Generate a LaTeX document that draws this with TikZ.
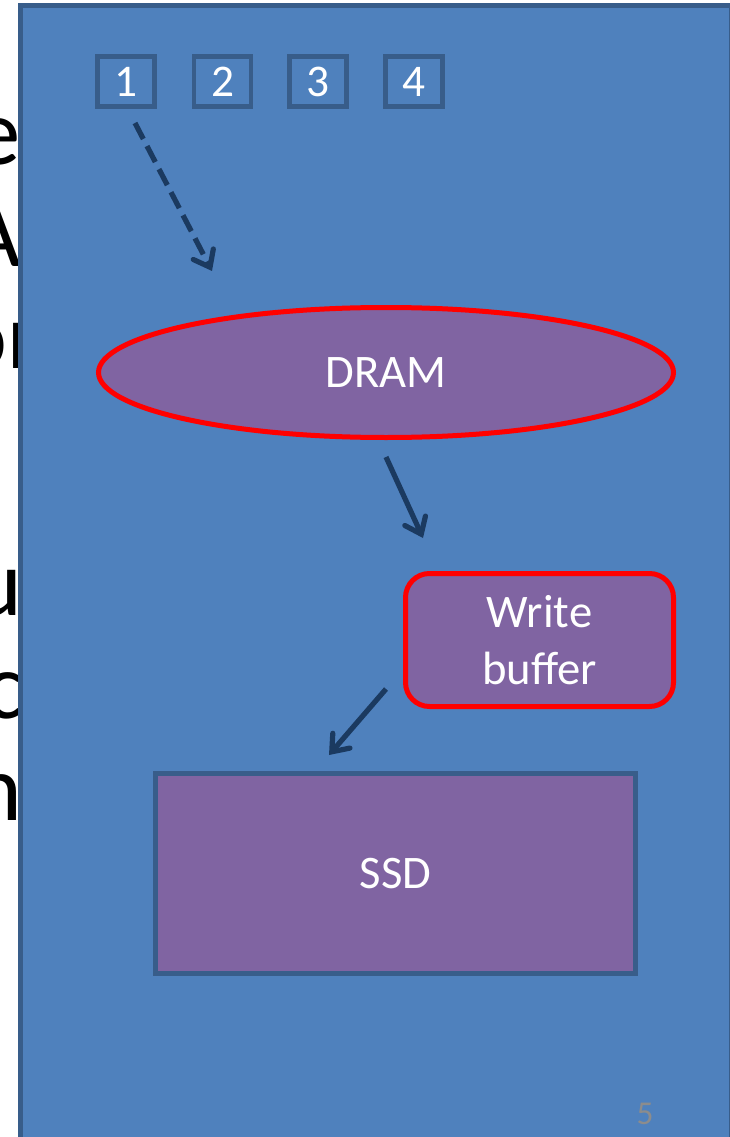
\documentclass[tikz,border=0pt]{standalone}
\usepackage{fontspec}
\setmainfont{Carlito}
\usetikzlibrary{arrows.meta,shapes.geometric}
\definecolor{slideblue}{HTML}{4F81BD}
\definecolor{edgeblue}{HTML}{385D8A}
\definecolor{boxpurple}{HTML}{8064A2}
\definecolor{arrownavy}{HTML}{1B3A60}
\definecolor{pagegray}{HTML}{8C8C8C}
\begin{document}
\begin{tikzpicture}[x=0.75pt,y=-0.75pt,
  bgletter/.style={inner sep=0pt,anchor=base east,text=black,font=\fontsize{71}{85}\selectfont},
  numbox/.style={draw=edgeblue,line width=3.6pt,minimum width=42.75pt,minimum height=37.5pt,
    inner sep=0pt,text=white,font=\fontsize{34}{40}\selectfont},
  redstage/.style={draw=red,line width=3.75pt,fill=boxpurple,text=white,
    font=\fontsize{35}{42.75}\selectfont,inner sep=0pt},
  flow/.style={draw=arrownavy,line width=3.9pt,
    -{Straight Barb[length=11pt,width=17pt,line cap=round]}},
  dashflow/.style={flow,dash pattern=on 13.5pt off 6pt}]

\useasboundingbox (0,0) rectangle (729,1137);
\fill[white] (0,0) rectangle (729,1137);

% slide text lines partly hidden behind the panel
\node[bgletter] (t1) at (21,165) {e};
\node[bgletter] (t2) at (22,267) {A};
\node[bgletter] (t3) at (41,368) {or};
\node[bgletter] (t4) at (23,615) {u};
\node[bgletter] (t5) at (25,718) {c};
\node[bgletter] (t6) at (23,820) {n};

% panel
\draw[edgeblue,line width=3.75pt,fill=slideblue] (20.5,6) rectangle (731.2,1170);

% numbered requests
\node[numbox] (n1) at (126,81.5) {1};
\node[numbox] (n2) at (222.5,81.5) {2};
\node[numbox] (n3) at (318,81.5) {3};
\node[numbox] (n4) at (414,81.5) {4};

% storage stages
\node[redstage,ellipse,minimum width=431.25pt,minimum height=97.5pt] (dram) at (386,372.5) {DRAM};
\node[redstage,rectangle,rounded corners=18pt,minimum width=201pt,minimum height=99.75pt,align=center]
  (wb) at (539.5,640) {Write\\buffer};
\node[draw=edgeblue,line width=3.75pt,fill=boxpurple,text=white,font=\fontsize{35}{42.75}\selectfont,
  minimum width=360pt,minimum height=150pt,inner sep=0pt] (ssd) at (395.5,873.5) {SSD};

% flow arrows
\coordinate (a1s) at (135,123);
\coordinate (a1e) at (212,271);
\coordinate (a2s) at (386,457);
\coordinate (a2e) at (423,538);
\coordinate (a3s) at (386,689);
\coordinate (a3e) at (329,755);
\draw[dashflow] (a1s) -- (a1e);
\draw[flow] (a2s) -- (a2e);
\draw[flow] (a3s) -- (a3e);

% slide number
\node[text=pagegray,font=\fontsize{25}{30}\selectfont,inner sep=0pt] (pg) at (645,1114) {5};
\end{tikzpicture}
\end{document}
